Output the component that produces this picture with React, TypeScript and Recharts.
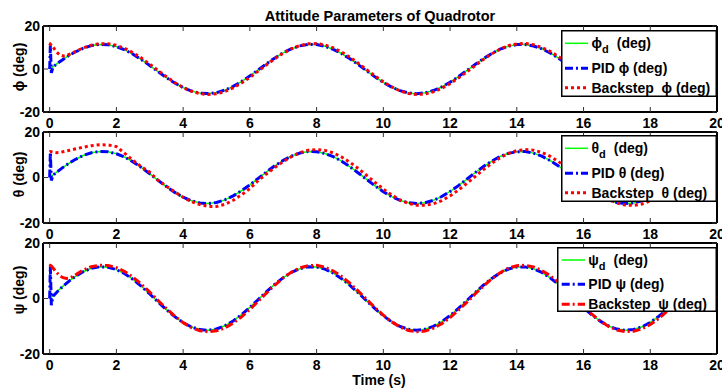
import { LineChart, Line, XAxis, YAxis, Legend } from 'recharts';

// time axis (s)
const time = [
  0, 0.02, 0.05, 0.1, 0.2, 0.3, 0.4, 0.5, 0.6, 0.75,
  1, 1.25, 1.5, 1.75, 2, 2.25, 2.5, 2.75, 3, 3.25,
  3.5, 3.75, 4, 4.25, 4.5, 4.75, 5, 5.25, 5.5, 5.75,
  6, 6.25, 6.5, 6.75, 7, 7.25, 7.5, 7.75, 8, 8.25,
  8.5, 8.75, 9, 9.25, 9.5, 9.75, 10, 10.25, 10.5, 10.75,
  11, 11.25, 11.5, 11.75, 12, 12.25, 12.5, 12.75, 13, 13.25,
  13.5, 13.75, 14, 14.25, 14.5, 14.75, 15, 15.25, 15.5, 15.75,
  16, 16.25, 16.5, 16.75, 17, 17.25, 17.5, 17.75, 18, 18.25,
  18.5, 18.75, 19, 19.25, 19.5, 19.75, 20,
];

// reference attitude (same for phi, theta, psi), deg
const desiredDeg = [
  0, 0.23, 0.57, 1.14, 2.28, 3.39, 4.46, 5.49, 6.47, 7.81,
  9.64, 10.88, 11.43, 11.28, 10.42, 8.92, 6.86, 4.37, 1.62, -1.24,
  -4.02, -6.55, -8.67, -10.26, -11.2, -11.45, -10.99, -9.84, -8.08, -5.83,
  -3.2, -0.38, 2.47, 5.16, 7.53, 9.43, 10.75, 11.4, 11.34, 10.57,
  9.15, 7.16, 4.72, 2.0, -0.86, -3.66, -6.23, -8.43, -10.08, -11.11,
  -11.46, -11.06, -10.03, -8.36, -6.15, -3.57, -0.76, 2.1, 4.82, 7.23,
  9.21, 10.62, 11.35, 11.39, 10.71, 9.39, 7.45, 5.06, 2.37, -0.48,
  -3.3, -5.92, -8.16, -9.89, -11.02, -11.45, -11.18, -10.21, -8.61, -6.47,
  -3.93, -1.14, 1.72, 4.47, 6.94, 8.98, 10.46,
];

const pidPhi = [
  0, 11.0, -1.8, 0.9, 2.2, 3.35, 4.45, 5.49, 6.47, 7.81,
  9.64, 10.88, 11.43, 11.28, 10.42, 8.92, 6.86, 4.37, 1.62, -1.24,
  -4.02, -6.55, -8.67, -10.26, -11.2, -11.45, -10.99, -9.84, -8.08, -5.83,
  -3.2, -0.38, 2.47, 5.16, 7.53, 9.43, 10.75, 11.4, 11.34, 10.57,
  9.15, 7.16, 4.72, 2.0, -0.86, -3.66, -6.23, -8.43, -10.08, -11.11,
  -11.46, -11.06, -10.03, -8.36, -6.15, -3.57, -0.76, 2.1, 4.82, 7.23,
  9.21, 10.62, 11.35, 11.39, 10.71, 9.39, 7.45, 5.06, 2.37, -0.48,
  -3.3, -5.92, -8.16, -9.89, -11.02, -11.45, -11.18, -10.21, -8.61, -6.47,
  -3.93, -1.14, 1.72, 4.47, 6.94, 8.98, 10.46,
];

const pidTheta = [
  0, 10.9, -1.3, 1.0, 2.2, 3.35, 4.45, 5.49, 6.47, 7.81,
  9.64, 10.88, 11.43, 11.28, 10.42, 8.92, 6.86, 4.37, 1.62, -1.24,
  -4.02, -6.55, -8.67, -10.26, -11.2, -11.45, -10.99, -9.84, -8.08, -5.83,
  -3.2, -0.38, 2.47, 5.16, 7.53, 9.43, 10.75, 11.4, 11.34, 10.57,
  9.15, 7.16, 4.72, 2.0, -0.86, -3.66, -6.23, -8.43, -10.08, -11.11,
  -11.46, -11.06, -10.03, -8.36, -6.15, -3.57, -0.76, 2.1, 4.82, 7.23,
  9.21, 10.62, 11.35, 11.39, 10.71, 9.39, 7.45, 5.06, 2.37, -0.48,
  -3.3, -5.92, -8.16, -9.89, -11.02, -11.45, -11.18, -10.21, -8.61, -6.47,
  -3.93, -1.14, 1.72, 4.47, 6.94, 8.98, 10.46,
];

const pidPsi = [
  0, 11.6, -2.4, 0.8, 2.1, 3.3, 4.4, 5.45, 6.45, 7.8,
  9.64, 10.88, 11.43, 11.28, 10.42, 8.92, 6.86, 4.37, 1.62, -1.24,
  -4.02, -6.55, -8.67, -10.26, -11.2, -11.45, -10.99, -9.84, -8.08, -5.83,
  -3.2, -0.38, 2.47, 5.16, 7.53, 9.43, 10.75, 11.4, 11.34, 10.57,
  9.15, 7.16, 4.72, 2.0, -0.86, -3.66, -6.23, -8.43, -10.08, -11.11,
  -11.46, -11.06, -10.03, -8.36, -6.15, -3.57, -0.76, 2.1, 4.82, 7.23,
  9.21, 10.62, 11.35, 11.39, 10.71, 9.39, 7.45, 5.06, 2.37, -0.48,
  -3.3, -5.92, -8.16, -9.89, -11.02, -11.45, -11.18, -10.21, -8.61, -6.47,
  -3.93, -1.14, 1.72, 4.47, 6.94, 8.98, 10.46,
];

const bsPhi = [
  11.0, 11.6, 11.2, 10.2, 8.0, 6.6, 6.1, 6.3, 6.9, 8.0,
  9.8, 11.1, 11.8, 11.8, 11.04, 9.6, 7.57, 5.08, 2.26, -0.69,
  -3.6, -6.3, -8.61, -10.36, -11.47, -11.88, -11.54, -10.49, -8.79, -6.54,
  -3.89, -0.99, 1.98, 4.81, 7.37, 9.42, 10.92, 11.74, 11.83, 11.18,
  9.83, 7.88, 5.45, 2.64, -0.3, -3.23, -5.95, -8.32, -10.17, -11.4,
  -11.87, -11.63, -10.61, -8.98, -6.83, -4.17, -1.38, 1.58, 4.46, 7.07,
  9.2, 10.89, 11.7, 11.86, 11.26, 9.99, 8.17, 5.78, 3.03, 0.1,
  -2.85, -5.61, -8.03, -9.95, -11.25, -11.84, -11.7, -10.84, -9.3, -7.18,
  -4.63, -1.77, 1.19, 4.08, 6.71, 8.93, 10.59,
];

const bsTheta = [
  11.2, 11.4, 11.3, 11.1, 10.9, 11.0, 11.3, 11.6, 12.0, 12.5,
  13.3, 14.0, 14.4, 14.3, 13.6, 10.6, 7.5, 4.7, 2.3, -1.3,
  -3.9, -6.35, -8.7, -10.65, -11.9, -12.7, -12.7, -11.8, -10.0, -7.6,
  -4.9, -1.3, 1.6, 4.4, 7.0, 9.2, 10.9, 12.0, 12.3, 11.93,
  10.81, 9.03, 6.68, 3.92, 0.91, -2.15, -5.07, -7.67, -9.84, -11.37,
  -12.18, -12.24, -11.57, -10.16, -8.1, -5.53, -2.64, 0.42, 3.45, 6.26,
  8.68, 10.58, 11.8, 12.29, 12.02, 11.01, 9.3, 7.01, 4.31, 1.32,
  -1.75, -4.71, -7.37, -9.59, -11.21, -12.12, -12.28, -11.68, -10.34, -8.38,
  -5.88, -3.03, 0.0, 3.04, 5.9, 8.38, 10.35,
];

const bsPsi = [
  11.6, 11.9, 11.7, 11.0, 9.5, 8.2, 7.5, 7.2, 7.4, 8.3,
  10.3, 11.5, 12.0, 11.9, 11.15, 9.7, 7.65, 5.13, 2.28, -0.7,
  -3.64, -6.36, -8.7, -10.46, -11.59, -12.0, -11.66, -10.6, -8.88, -6.61,
  -3.93, -1.0, 2.0, 4.86, 7.44, 9.52, 11.03, 11.86, 11.95, 11.29,
  9.93, 7.96, 5.5, 2.67, -0.3, -3.26, -6.01, -8.4, -10.27, -11.52,
  -11.99, -11.75, -10.72, -9.07, -6.9, -4.21, -1.39, 1.6, 4.5, 7.14,
  9.29, 11.0, 11.82, 11.98, 11.37, 10.09, 8.25, 5.84, 3.06, 0.1,
  -2.88, -5.67, -8.11, -10.05, -11.36, -11.96, -11.82, -10.95, -9.39, -7.25,
  -4.68, -1.79, 1.2, 4.12, 6.78, 9.02, 10.7,
];

const xTicks = [0, 2, 4, 6, 8, 10, 12, 14, 16, 18, 20];
const yTicks = [-20, 0, 20];

const rows = time.map((t, i) => ({
  t,
  desired: desiredDeg[i],
  pidPhi: pidPhi[i],
  pidTheta: pidTheta[i],
  pidPsi: pidPsi[i],
  bsPhi: bsPhi[i],
  bsTheta: bsTheta[i],
  bsPsi: bsPsi[i],
}));

const FONT = 'Arial, "Liberation Sans", Helvetica, sans-serif';
const tickStyle = { fill: '#000', fontSize: 14, fontWeight: 'bold', fontFamily: FONT };
const axisLine = { stroke: '#000', strokeWidth: 2 };
const tickLine = { stroke: '#333', strokeWidth: 1 };
const blank = () => '';

const PID_DASH = '8 3 2 3';
const DOT_DASH = '3 3';

interface LegendSpec {
  left: number;
  top: number;
  width: number;
  height: number;
  lineX: [number, number];
  textX: number;
  lineY: [number, number, number];
}

function LegendBox({ spec, sym, bsDash }: { spec: LegendSpec; sym: string; bsDash: string }) {
  const { width: w, height: h, lineX, textX, lineY } = spec;
  const txt = { fontFamily: FONT, fontWeight: 'bold', fontSize: 14, fill: '#000' };
  return (
    <svg width={w} height={h} style={{ display: 'block' }}>
      <rect x={0.75} y={0.75} width={w - 1.5} height={h - 1.5} fill="#fff" stroke="#000" strokeWidth={1.5} />
      <line x1={lineX[0]} x2={lineX[1]} y1={lineY[0]} y2={lineY[0]} stroke="#00ff00" strokeWidth={1.5} />
      <text x={textX} y={lineY[0] + 4.7} {...txt}>
        {sym}
        <tspan dy={5} fontSize={11}>d</tspan>
        <tspan dy={-5} dx={8}>(deg)</tspan>
      </text>
      <line x1={lineX[0]} x2={lineX[1]} y1={lineY[1]} y2={lineY[1]} stroke="#0000ff" strokeWidth={3} strokeDasharray={PID_DASH} />
      <text x={textX} y={lineY[1] + 5} {...txt}>{`PID ${sym} (deg)`}</text>
      <line x1={lineX[0]} x2={lineX[1]} y1={lineY[2]} y2={lineY[2]} stroke="#ff0000" strokeWidth={3} strokeDasharray={bsDash} />
      <text x={textX} y={lineY[2] + 5} {...txt} style={{ whiteSpace: 'pre' }}>{`Backstep  ${sym} (deg)`}</text>
    </svg>
  );
}

interface PanelProps {
  top: number;
  height: number;
  topH: number;
  bottomH: number;
  pidKey: string;
  bsKey: string;
  sym: string;
  bsDash: string;
  labelY: number;
  legend: LegendSpec;
  title?: string;
  xLabel?: string;
  xLabelY?: number;
}

function Panel({ top, height, topH, bottomH, pidKey, bsKey, sym, bsDash, labelY, legend, title, xLabel, xLabelY }: PanelProps) {
  const yLabel = () => (
    <text
      x={19}
      y={labelY}
      transform={`rotate(-90 19 ${labelY})`}
      textAnchor="middle"
      dominantBaseline="central"
      fontFamily={FONT}
      fontWeight="bold"
      fontSize={14}
      fill="#000"
    >
      {`${sym} (deg)`}
    </text>
  );
  const titleLabel = title
    ? () => (
        <text x={380} y={21} textAnchor="middle" fontFamily={FONT} fontWeight="bold" fontSize={14.5} fill="#000">
          {title}
        </text>
      )
    : undefined;
  const xLabelNode = xLabel
    ? () => (
        <text x={379} y={xLabelY} textAnchor="middle" fontFamily={FONT} fontWeight="bold" fontSize={14} fill="#000">
          {xLabel}
        </text>
      )
    : undefined;

  return (
    <div style={{ position: 'absolute', left: 0, top }}>
      <LineChart width={722} height={height} data={rows} margin={{ top: 0, right: 0, bottom: 0, left: 0 }}>
        <XAxis
          xAxisId="b"
          dataKey="t"
          type="number"
          domain={[-0.2, 20]}
          allowDataOverflow
          ticks={xTicks}
          interval={0}
          height={bottomH}
          tickSize={-5}
          tickMargin={11.5}
          tick={tickStyle}
          axisLine={axisLine}
          tickLine={tickLine}
          label={xLabelNode}
        />
        <XAxis
          xAxisId="t"
          orientation="top"
          dataKey="t"
          type="number"
          domain={[-0.2, 20]}
          allowDataOverflow
          ticks={xTicks}
          interval={0}
          height={topH}
          tickSize={-5}
          tickFormatter={blank}
          axisLine={axisLine}
          tickLine={tickLine}
          label={titleLabel}
        />
        <YAxis
          yAxisId="l"
          type="number"
          domain={[-20, 20]}
          allowDataOverflow
          ticks={yTicks}
          interval={0}
          width={43}
          tickSize={-5}
          tickMargin={8}
          tick={tickStyle}
          axisLine={axisLine}
          tickLine={tickLine}
          label={yLabel}
        />
        <YAxis
          yAxisId="r"
          orientation="right"
          type="number"
          domain={[-20, 20]}
          allowDataOverflow
          ticks={yTicks}
          interval={0}
          width={5}
          tickSize={-5}
          tickFormatter={blank}
          axisLine={axisLine}
          tickLine={tickLine}
        />
        <Legend
          layout="vertical"
          align="center"
          verticalAlign="middle"
          wrapperStyle={{ left: legend.left, top: legend.top, width: legend.width, height: legend.height }}
          content={() => <LegendBox spec={legend} sym={sym} bsDash={bsDash} />}
        />
        <Line
          xAxisId="b"
          yAxisId="l"
          dataKey="desired"
          stroke="#00ff00"
          strokeWidth={1.5}
          dot={false}
          isAnimationActive={false}
        />
        <Line
          xAxisId="b"
          yAxisId="l"
          dataKey={pidKey}
          stroke="#0000ff"
          strokeWidth={3}
          strokeDasharray={PID_DASH}
          dot={false}
          isAnimationActive={false}
        />
        <Line
          xAxisId="b"
          yAxisId="l"
          dataKey={bsKey}
          stroke="#ff0000"
          strokeWidth={3}
          strokeDasharray={bsDash}
          dot={false}
          isAnimationActive={false}
        />
      </LineChart>
    </div>
  );
}

export default function App() {
  return (
    <div style={{ position: 'relative', width: 722, height: 389, overflow: 'hidden', background: '#fff' }}>
      <style>{'body { margin: 0; }'}</style>
      <Panel
        top={0}
        height={132}
        topH={26}
        bottomH={20}
        pidKey="pidPhi"
        bsKey="bsPhi"
        sym="ϕ"
        bsDash={DOT_DASH}
        labelY={67}
        title="Attitude Parameters of Quadrotor"
        legend={{ left: 561, top: 30, width: 156, height: 67, lineX: [4, 27], textX: 30.5, lineY: [13.3, 38.3, 57.7] }}
      />
      <Panel
        top={120}
        height={123}
        topH={12}
        bottomH={20}
        pidKey="pidTheta"
        bsKey="bsTheta"
        sym="θ"
        bsDash={DOT_DASH}
        labelY={54.5}
        legend={{ left: 561, top: 15, width: 156, height: 67, lineX: [4, 27], textX: 30.5, lineY: [13.3, 38.3, 57.7] }}
      />
      <Panel
        top={231}
        height={158}
        topH={12}
        bottomH={35}
        pidKey="pidPsi"
        bsKey="bsPsi"
        sym="ψ"
        bsDash={PID_DASH}
        labelY={59}
        xLabel="Time (s)"
        xLabelY={153.5}
        legend={{ left: 557, top: 16, width: 160, height: 65, lineX: [4.7, 28], textX: 31.3, lineY: [13, 37.3, 57.3] }}
      />
    </div>
  );
}
